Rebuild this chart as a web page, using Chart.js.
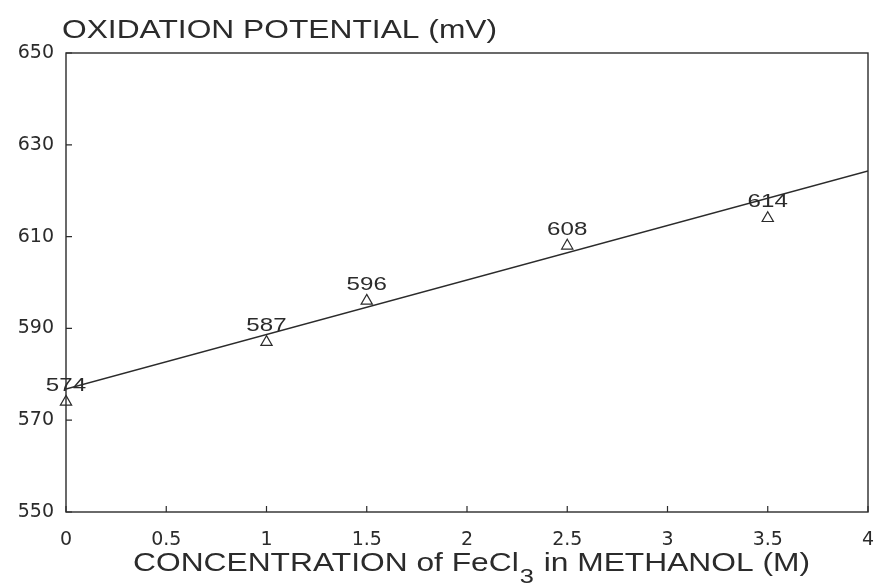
<!DOCTYPE html>
<html>
<head>
<meta charset="utf-8">
<script src="https://cdn.jsdelivr.net/npm/chart.js@4/dist/chart.umd.min.js"></script>
<style>
  html, body { margin: 0; padding: 0; background: #fff; }
  #wrap { width: 877px; height: 585px; }
</style>
</head>
<body>
<div id="wrap"><canvas id="c" width="877" height="585"></canvas></div>
<script>
// Measured oxidation potentials of FeCl3 solutions in methanol
const concentrations = [0, 1, 1.5, 2.5, 3.5];          // M
const potentials     = [574, 587, 596, 608, 614];       // mV
// Least-squares trend line, drawn between its two end points
const fitX = [0, 4];
const fitY = [576.8, 624.3];

const xTicks = [0, 0.5, 1, 1.5, 2, 2.5, 3, 3.5, 4];
const yTicks = [550, 570, 590, 610, 630, 650];

const yTitle = 'OXIDATION POTENTIAL (mV)';
const xTitleParts = ['CONCENTRATION of FeCl', '3', ' in METHANOL (M)'];

const INK = '#2b2b2b';
const FONT = '"Liberation Sans", Arial, sans-serif';
const TICK_FONT = '"DejaVu Sans", sans-serif';
const STRETCH = 1.27;   // wide lettering of the plotter font

// draw text widened horizontally, anchored at (x, y)
function wideText(ctx, str, x, y, align) {
  const w = ctx.measureText(str).width * STRETCH;
  let left = x;
  if (align === 'center') left = x - w / 2;
  ctx.save();
  ctx.textAlign = 'left';
  ctx.translate(left, y);
  ctx.scale(STRETCH, 1);
  ctx.fillText(str, 0, 0);
  ctx.restore();
  return w;
}

// Frame, inward tick marks, value labels and axis titles
const decor = {
  id: 'decor',
  afterDatasetsDraw(chart) {
    const { ctx, chartArea: a, scales } = chart;
    const xs = scales.x, ys = scales.y;
    ctx.save();
    ctx.strokeStyle = INK;
    ctx.lineWidth = 1.4;
    ctx.strokeRect(a.left, a.top, a.right - a.left, a.bottom - a.top);

    ctx.lineWidth = 1.2;
    ctx.beginPath();
    xTicks.forEach(v => {
      const px = xs.getPixelForValue(v);
      ctx.moveTo(px, a.bottom);
      ctx.lineTo(px, a.bottom - 6);
    });
    yTicks.forEach(v => {
      const py = ys.getPixelForValue(v);
      ctx.moveTo(a.left, py);
      ctx.lineTo(a.left + 6, py);
    });
    ctx.stroke();

    // value labels above the measured points
    ctx.fillStyle = INK;
    ctx.font = '19px ' + FONT;
    ctx.textBaseline = 'alphabetic';
    const meta = chart.getDatasetMeta(1);
    meta.data.forEach((pt, i) => {
      wideText(ctx, String(potentials[i]), pt.x, pt.y - 11, 'center');
    });

    // y title along the top
    ctx.font = '25px ' + FONT;
    wideText(ctx, yTitle, 62, 38, 'left');

    // x title with subscript
    const big = '25px ' + FONT, small = '20px ' + FONT;
    ctx.font = big;
    const w0 = ctx.measureText(xTitleParts[0]).width * STRETCH;
    const w2 = ctx.measureText(xTitleParts[2]).width * STRETCH;
    ctx.font = small;
    const w1 = ctx.measureText(xTitleParts[1]).width * STRETCH;
    const x0 = 133;
    const base = 571;
    ctx.font = big;
    wideText(ctx, xTitleParts[0], x0, base, 'left');
    ctx.font = small;
    wideText(ctx, xTitleParts[1], x0 + w0 + 1, base + 12, 'left');
    ctx.font = big;
    wideText(ctx, xTitleParts[2], x0 + w0 + w1 + 2, base, 'left');
    ctx.restore();
  }
};

new Chart(document.getElementById('c'), {
  type: 'scatter',
  data: {
    datasets: [
      {
        type: 'line',
        data: fitX.map((x, i) => ({ x, y: fitY[i] })),
        borderColor: INK,
        borderWidth: 1.4,
        pointRadius: 0,
        fill: false
      },
      {
        data: concentrations.map((x, i) => ({ x, y: potentials[i] })),
        pointStyle: 'triangle',
        pointRadius: 6.5,
        borderColor: INK,
        borderWidth: 1.2,
        backgroundColor: 'rgba(255,255,255,0)',
        clip: false
      }
    ]
  },
  options: {
    responsive: false,
    animation: false,
    layout: { padding: { top: 53, right: 9, left: 0, bottom: 0 } },
    plugins: { legend: { display: false }, tooltip: { enabled: false }, title: { display: false } },
    scales: {
      x: {
        type: 'linear',
        min: 0, max: 4,
        afterBuildTicks: s => { s.ticks = xTicks.map(v => ({ value: v })); },
        afterFit: s => { s.height = 73; s.paddingLeft = 0; s.paddingRight = 0; },
        grid: { display: false, drawTicks: false },
        border: { display: false },
        ticks: {
          color: INK, padding: 17, maxRotation: 0,
          font: { family: TICK_FONT, size: 19 },
          callback: v => String(v)
        }
      },
      y: {
        min: 550, max: 650,
        afterBuildTicks: s => { s.ticks = yTicks.map(v => ({ value: v })); },
        afterFit: s => { s.width = 66; s.paddingTop = 0; s.paddingBottom = 0; },
        grid: { display: false, drawTicks: false },
        border: { display: false },
        ticks: {
          color: INK, padding: 12,
          font: { family: TICK_FONT, size: 19 },
          callback: v => String(v)
        }
      }
    }
  },
  plugins: [decor]
});
</script>
</body>
</html>
